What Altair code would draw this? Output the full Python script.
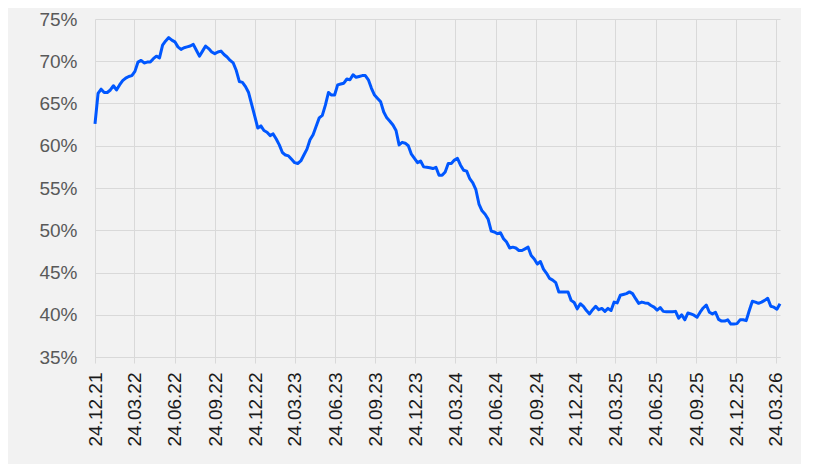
import altair as alt
import pandas as pd

# Weekly observations (Fridays) starting 24.12.2021
start_date = "2021-12-24"
values_pct = [
    62.6, 66.2, 66.7, 66.3, 66.3, 66.6, 67.1, 66.6, 67.2, 67.7,
    68.0, 68.2, 68.3, 68.8, 69.9, 70.1, 69.8, 69.9, 69.9, 70.3,
    70.6, 70.4, 71.9, 72.4, 72.8, 72.5, 72.3, 71.7, 71.4, 71.6,
    71.7, 71.8, 72.0, 71.3, 70.6, 71.2, 71.8, 71.5, 71.1, 70.9,
    71.1, 71.2, 70.8, 70.5, 70.1, 69.8, 68.9, 67.6, 67.5, 67.0,
    66.3, 64.9, 63.5, 62.1, 62.35, 61.8, 61.6, 61.2, 61.4, 60.8,
    60.1, 59.2, 58.9, 58.8, 58.4, 58.0, 57.9, 58.2, 58.9, 59.6,
    60.7, 61.3, 62.3, 63.3, 63.6, 64.8, 66.3, 66.0, 66.0, 67.2,
    67.3, 67.4, 67.9, 67.8, 68.4, 68.1, 68.2, 68.3, 68.3, 67.8,
    66.8, 66.0, 65.6, 65.2, 64.0, 63.3, 62.9, 62.45, 61.8, 60.1,
    60.4, 60.3, 60.0, 59.0, 58.5, 58.0, 58.2, 57.5, 57.45, 57.4,
    57.3, 57.45, 56.5, 56.5, 56.9, 57.9, 57.9, 58.3, 58.5, 57.7,
    57.1, 57.0, 56.1, 55.6, 54.8, 53.1, 52.3, 51.9, 51.3, 49.9,
    49.8, 49.6, 49.7, 49.0, 48.6, 47.9, 48.0, 47.9, 47.6, 47.6,
    47.8, 48.0, 47.0, 46.6, 46.0, 46.3, 45.4, 44.9, 44.3, 44.1,
    43.8, 42.7, 42.7, 42.7, 42.7, 41.7, 41.45, 40.7, 41.3, 41.0,
    40.5, 40.1, 40.6, 41.0, 40.6, 40.75, 40.4, 40.75, 40.5, 41.5,
    41.4, 42.3, 42.4, 42.5, 42.7, 42.5, 41.9, 41.35, 41.5, 41.4,
    41.35, 41.1, 40.9, 40.55, 40.85, 40.4, 40.35, 40.35, 40.35, 40.4,
    39.6, 40.0, 39.4, 40.2, 40.1, 39.95, 39.7, 40.3, 40.8, 41.15,
    40.3, 40.1, 40.3, 39.45, 39.25, 39.25, 39.4, 38.9, 38.9, 38.95,
    39.4, 39.4, 39.3, 40.5, 41.6, 41.5, 41.35, 41.5, 41.7, 41.95,
    41.0, 40.9, 40.65, 41.3,
]

tick_dates = [
    "2021-12-24", "2022-03-24", "2022-06-24", "2022-09-24",
    "2022-12-24", "2023-03-24", "2023-06-24", "2023-09-24",
    "2023-12-24", "2024-03-24", "2024-06-24", "2024-09-24",
    "2024-12-24", "2025-03-24", "2025-06-24", "2025-09-24",
    "2025-12-24", "2026-03-24",
]
y_ticks = [0.35, 0.40, 0.45, 0.50, 0.55, 0.60, 0.65, 0.70, 0.75]

dates = pd.date_range(start_date, periods=len(values_pct), freq="7D")
df = pd.DataFrame({"date": dates, "value": [v / 100 for v in values_pct]})


def to_dt(s):
    y, m, d = (int(p) for p in s.split("-"))
    return alt.DateTime(year=y, month=m, date=d)


tick_values = [to_dt(s) for s in tick_dates]
last = dates[-1]
domain = [to_dt(start_date), alt.DateTime(year=last.year, month=last.month, date=last.day)]

chart = (
    alt.Chart(df)
    .mark_line(color="#0057FF", strokeWidth=3, strokeJoin="round")
    .encode(
        x=alt.X(
            "date:T",
            scale=alt.Scale(domain=domain, nice=False),
            axis=alt.Axis(
                title=None,
                values=tick_values,
                format="%d.%m.%y",
                labelAngle=270,
                labelFont="Liberation Sans",
                labelFontSize=19,
                labelColor="#1a1a1a",
                labelPadding=9,
                ticks=True,
                tickSize=6,
                tickColor="#d9d9d9",
                domain=True,
                domainColor="#d9d9d9",
                grid=True,
                gridColor="#d9d9d9",
                gridWidth=1,
                labelOverlap=False,
            ),
        ),
        y=alt.Y(
            "value:Q",
            scale=alt.Scale(domain=[0.35, 0.75], nice=False, zero=False),
            axis=alt.Axis(
                title=None,
                values=y_ticks,
                format=".0%",
                labelFont="Liberation Sans",
                labelFontSize=19,
                labelColor="#595959",
                labelPadding=18,
                ticks=False,
                domain=False,
                grid=True,
                gridColor="#d9d9d9",
                gridWidth=1,
            ),
        ),
    )
    .properties(
        width=685,
        height=338,
        autosize=alt.AutoSizeParams(type="none"),
        padding={"left": 87, "top": 11, "right": 21, "bottom": 107},
        background="#f2f2f2",
    )
    .configure_view(stroke=None)
)

chart.save("out.html", embed_options={"renderer": "svg", "actions": False})
